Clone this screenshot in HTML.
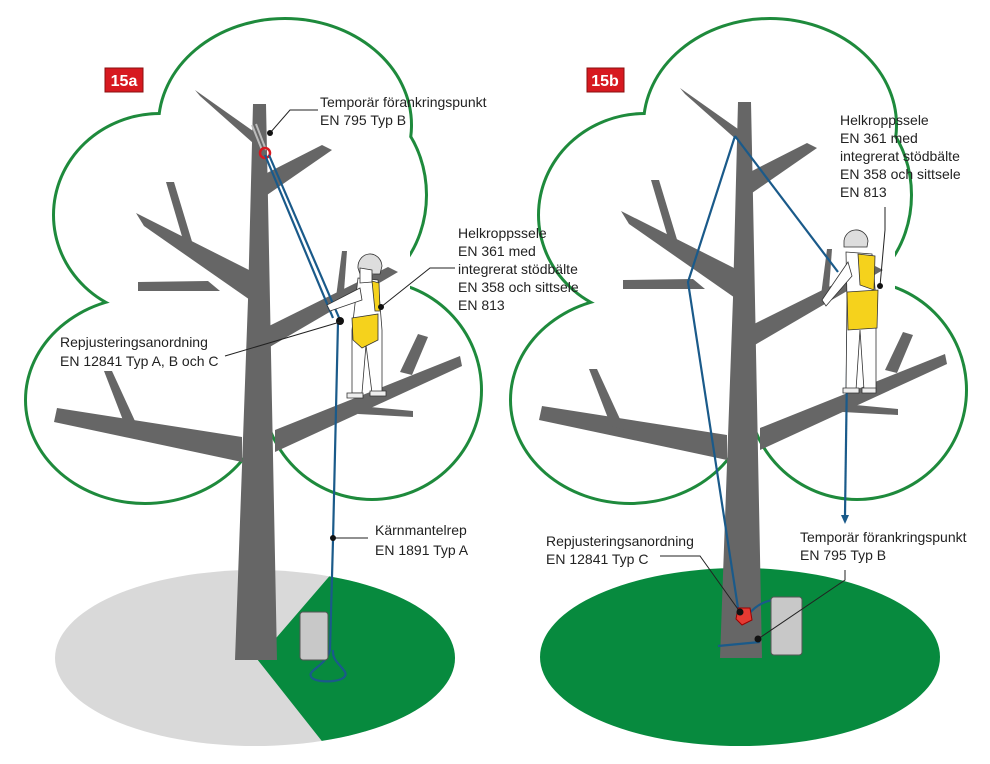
<!DOCTYPE html>
<html><head><meta charset="utf-8"><style>
html,body{margin:0;padding:0;background:#fff;}
svg{display:block;}
text{font-family:"Liberation Sans",sans-serif;font-size:14px;fill:#222;}
</style></head><body>
<svg width="990" height="764" viewBox="0 0 990 764" xmlns="http://www.w3.org/2000/svg">
<defs>
<g id="cloud">
 <g fill="none" stroke="#1e8a3c" stroke-width="6">
  <ellipse cx="285" cy="125" rx="125" ry="105"/>
  <ellipse cx="160" cy="215" rx="105" ry="100"/>
  <ellipse cx="145" cy="400" rx="118" ry="102"/>
  <ellipse cx="372" cy="390" rx="108" ry="108"/>
  <ellipse cx="340" cy="195" rx="85" ry="100"/>
 </g>
 <g fill="#fff">
  <ellipse cx="285" cy="125" rx="125" ry="105"/>
  <ellipse cx="160" cy="215" rx="105" ry="100"/>
  <ellipse cx="145" cy="400" rx="118" ry="102"/>
  <ellipse cx="372" cy="390" rx="108" ry="108"/>
  <ellipse cx="340" cy="195" rx="85" ry="100"/>
  <rect x="150" y="180" width="260" height="250"/>
 </g>
</g>
<g id="tree" fill="#666">
 <polygon points="195,90 200,96 253,143 253,131"/>
 <polygon points="267,173 322,145 332,150 267,195"/>
 <polygon points="136,213 144,226 253,302 253,272"/>
 <polygon points="166,182 174,182 197,258 186,250"/>
 <polygon points="138,282 138,291 220,291 208,281"/>
 <polygon points="267,327 388,267 398,272 268,348"/>
 <polygon points="342,251 347,251 343,305 335,305"/>
 <polygon points="57,408 54,422 242,462 242,437"/>
 <polygon points="104,371 112,371 140,432 126,428"/>
 <polygon points="275,430 460,356 462,366 275,452"/>
 <polygon points="418,334 428,337 412,375 400,372"/>
 <polygon points="360,406 413,411 413,417 358,414"/>
 <polygon points="253,104 266,104 268,200 277,660 235,660 248,300"/>
</g>
<clipPath id="gc"><polygon points="257,659 340,764 470,764 470,560 333,572 277,637"/></clipPath>
</defs>

<ellipse cx="255" cy="658" rx="200" ry="88" fill="#d9d9d9"/>
<ellipse cx="255" cy="658" rx="200" ry="88" fill="#078a3e" clip-path="url(#gc)"/>
<ellipse cx="740" cy="657" rx="200" ry="89" fill="#078a3e"/>

<use href="#cloud"/>
<use href="#cloud" transform="translate(485,0)"/>
<use href="#tree"/>
<use href="#tree" transform="translate(485,-2)"/>

<rect x="105" y="68" width="38" height="24" fill="#d71920" stroke="#8a1010"/>
<text x="124" y="86" text-anchor="middle" style="fill:#fff;font-weight:bold;font-size:16px">15a</text>
<rect x="587" y="68" width="37" height="24" fill="#d71920" stroke="#8a1010"/>
<text x="605" y="86" text-anchor="middle" style="fill:#fff;font-weight:bold;font-size:16px">15b</text>

<!-- LEFT scene details -->
<path d="M252,125 L262,150 M256,124 L266,150" stroke="#bbb" stroke-width="2"/>
<circle cx="265" cy="153" r="5" fill="none" stroke="#d71920" stroke-width="2.5"/>
<g stroke="#1a5a8a" stroke-width="2.2" fill="none">
 <line x1="265" y1="155" x2="333" y2="318"/>
 <line x1="269" y1="155" x2="340" y2="320"/>
 <path d="M338,322 L333,540 L330,650 C325,668 305,670 312,678 C320,684 350,682 345,672 C340,664 332,660 333,650"/>
</g>
<rect x="300" y="612" width="28" height="48" rx="3" fill="#c8c8c8" stroke="#555"/>
<g stroke="#333" stroke-width="0.8">
 <path d="M358,278 L378,280 L382,330 L382,393 L372,393 L366,345 L362,393 L352,393 L352,330 Z" fill="#fff"/>
 <path d="M360,288 L327,305 L330,311 L362,300 Z" fill="#fff"/>
 <path d="M347,393 h16 v5 h-16z M370,391 h16 v5 h-16z" fill="#eee"/>
 <path d="M358,268 a12,13 0 0 1 24,-2 l-2,8 h-20z" fill="#ddd"/>
 <path d="M360,268 L372,270 L372,282 L360,283 Z" fill="#fff"/>
 <path d="M372,281 l7,2 l1,28 l-5,0z" fill="#f5d21c"/>
 <path d="M352,318 L378,314 L378,340 L362,348 L353,340 Z" fill="#f5d21c"/>
</g>
<circle cx="340" cy="321" r="4" fill="#111"/>

<!-- RIGHT scene details -->
<g stroke="#1a5a8a" stroke-width="2.2" fill="none">
 <path d="M735,136 L688,282 L738,608"/>
 <line x1="735" y1="136" x2="838" y2="272"/>
 <line x1="848" y1="300" x2="845" y2="515"/>
 <path d="M748,615 C760,600 775,598 790,600"/>
 <path d="M718,646 L760,642"/>
</g>
<path d="M841,515 L845,524 L849,515 Z" fill="#1a5a8a"/>
<path d="M738,608 h12 l2,12 l-10,5 l-6,-6z" fill="#e53a32" stroke="#900"/>
<rect x="771" y="597" width="31" height="58" rx="3" fill="#c8c8c8" stroke="#555"/>
<g stroke="#333" stroke-width="0.8">
 <path d="M846,252 L872,254 L876,300 L876,390 L864,390 L860,330 L856,390 L846,390 L847,300 Z" fill="#fff"/>
 <path d="M848,262 L822,300 L826,306 L852,276 Z" fill="#fff"/>
 <path d="M843,388 h16 v5 h-16z M862,388 h14 v5 h-14z" fill="#eee"/>
 <path d="M844,243 a12,12 0 0 1 24,-2 l-1,6 h-23z" fill="#ddd"/>
 <path d="M858,254 L875,256 L874,290 L860,285 Z" fill="#f5d21c"/>
 <path d="M847,292 L878,290 L877,328 L848,330 Z" fill="#f5d21c"/>
</g>

<g stroke="#222" stroke-width="1" fill="none">
 <path d="M318,110 L290,110 L270,133"/>
 <path d="M455,268 L430,268 L381,307"/>
 <path d="M225,356 L340,322"/>
 <path d="M368,538 L333,538"/>
 <path d="M885,207 L885,230 L880,286"/>
 <path d="M660,556 L700,556 L740,612"/>
 <path d="M845,570 L845,580 L758,639"/>
</g>
<g fill="#111">
 <circle cx="270" cy="133" r="3"/><circle cx="381" cy="307" r="3"/>
 <circle cx="333" cy="538" r="3"/><circle cx="880" cy="286" r="3"/>
 <circle cx="740" cy="612" r="3.5"/><circle cx="758" cy="639" r="3.5"/>
</g>

<text x="320" y="107">Temporär förankringspunkt</text>
<text x="320" y="125">EN 795 Typ B</text>
<text x="458" y="238">Helkroppssele</text>
<text x="458" y="256">EN 361 med</text>
<text x="458" y="274">integrerat stödbälte</text>
<text x="458" y="292">EN 358 och sittsele</text>
<text x="458" y="310">EN 813</text>
<text x="60" y="347">Repjusteringsanordning</text>
<text x="60" y="366">EN 12841 Typ A, B och C</text>
<text x="375" y="535">Kärnmantelrep</text>
<text x="375" y="555">EN 1891 Typ A</text>
<text x="840" y="125">Helkroppssele</text>
<text x="840" y="143">EN 361 med</text>
<text x="840" y="161">integrerat stödbälte</text>
<text x="840" y="179">EN 358 och sittsele</text>
<text x="840" y="197">EN 813</text>
<text x="546" y="546">Repjusteringsanordning</text>
<text x="546" y="564">EN 12841 Typ C</text>
<text x="800" y="542">Temporär förankringspunkt</text>
<text x="800" y="560">EN 795 Typ B</text>
</svg>
</body></html>
